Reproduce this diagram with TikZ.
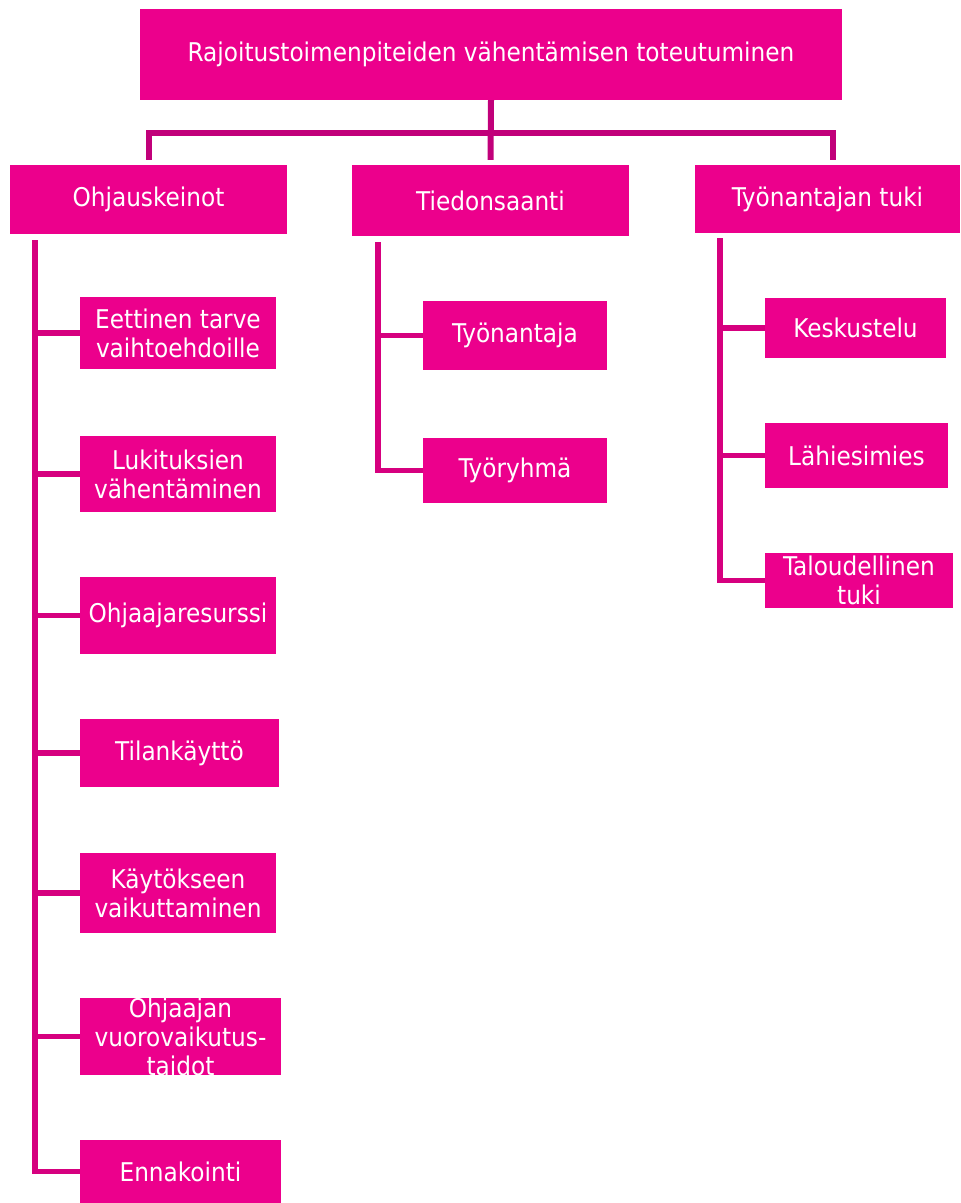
\documentclass[tikz,border=0pt]{standalone}
\usepackage{fontspec}
\setmainfont{DejaVu Sans Condensed}
\usetikzlibrary{calc}
\definecolor{boxmag}{HTML}{EC008C}
\definecolor{treemag}{HTML}{C1007A}
\definecolor{sidemag}{HTML}{D6007F}
\tikzset{
  bx/.style={fill=boxmag, draw=none, inner sep=0pt, text=white, align=center,
    font=\fontsize{25.8}{29}\selectfont},
  tree/.style={draw=treemag, line width=6pt},
  side/.style={draw=sidemag, line width=5.5pt},
}
% \mkbox{name}{x1}{y1}{x2}{y2}{text}
\newcommand{\mkbox}[6]{%
  \node[bx, minimum width=#4pt-#2pt, minimum height=#5pt-#3pt]
    (#1) at ({(#2+#4)/2},{(#3+#5)/2}) {#6};}
\begin{document}
\begin{tikzpicture}[x=1pt,y=-1pt]
\useasboundingbox (0,0) rectangle (961,1203);
\begin{scope}
\clip (0,0) rectangle (961,1203);
\mkbox{top}{140}{9}{842}{100}{Rajoitustoimenpiteiden vähentämisen toteutuminen}
\mkbox{ohj}{10}{165}{287}{234}{Ohjauskeinot}
\mkbox{tie}{352}{165}{629}{236}{Tiedonsaanti}
\mkbox{tyo}{695}{165}{960}{233}{Työnantajan tuki}
% left children
\mkbox{a1}{80}{297}{276}{369}{Eettinen tarve\\vaihtoehdoille}
\mkbox{a2}{80}{436}{276}{512}{Lukituksien\\vähentäminen}
\mkbox{a3}{80}{577}{276}{654}{Ohjaajaresurssi}
\mkbox{a4}{80}{719}{279}{787}{Tilankäyttö}
\mkbox{a5}{80}{853}{276}{933}{Käytökseen\\vaikuttaminen}
\mkbox{a6}{80}{998}{281}{1075}{Ohjaajan\\vuorovaikutus-\\taidot}
\mkbox{a7}{80}{1140}{281}{1203}{Ennakointi}
% middle children
\mkbox{b1}{423}{301}{607}{370}{Työnantaja}
\mkbox{b2}{423}{438}{607}{503}{Työryhmä}
% right children
\mkbox{c1}{765}{298}{946}{358}{Keskustelu}
\mkbox{c2}{765}{423}{948}{488}{Lähiesimies}
\mkbox{c3}{765}{553}{953}{608}{Taloudellinen\\tuki}

% top tree
\draw[tree] (top.south) -- ($(tie.north)+(0,-5)$);
\draw[tree] ($(ohj.north)+(0,-5)$) |- ($(tie.north)+(0,-32)$) -| ($(tyo.north)+(5,-5)$);

% left side bar
\coordinate (la) at ($(ohj.south west)+(25,6)$);
\draw[side] (la) |- (a7.west);
\foreach \n in {a1,a2,a3,a4,a5,a6}
  \draw[side] (la |- \n.west) -- (\n.west);

% middle side bar
\coordinate (lb) at ($(tie.south west)+(26,6)$);
\draw[side] (lb) |- (b2.west);
\draw[side] (lb |- b1.west) -- (b1.west);

% right side bar
\coordinate (lc) at ($(tyo.south west)+(25,5)$);
\draw[side] (lc) |- (c3.west);
\foreach \n in {c1,c2}
  \draw[side] (lc |- \n.west) -- (\n.west);
\end{scope}
\end{tikzpicture}
\end{document}
